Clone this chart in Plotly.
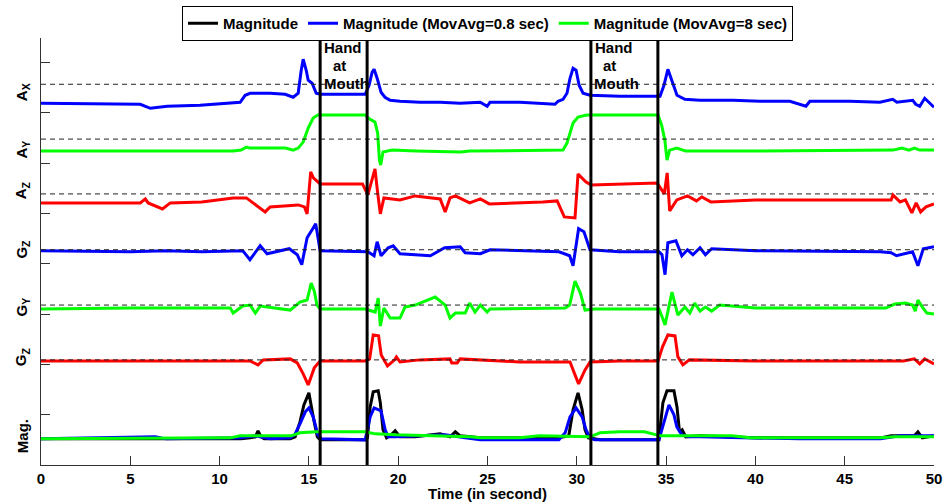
import plotly.graph_objects as go

# ---------------- data (time in s, signal in arbitrary units) ----------------
x_ticks = [0, 5, 10, 15, 20, 25, 30, 35, 40, 45, 50]
y_ticks = [1, 2, 3, 4, 5, 6, 7, 8]
channel_labels = ["A<sub>X</sub>", "A<sub>Y</sub>", "A<sub>Z</sub>", "G<sub>Z</sub>",
                  "G<sub>Y</sub>", "G<sub>Z</sub>", "Mag."]
legend_names = ["Magnitude", "Magnitude (MovAvg=0.8 sec)", "Magnitude (MovAvg=8 sec)"]
hand_start = [15.63, 30.79]
hand_end = [18.26, 34.54]
hand_lines = ["Hand", "at", "Mouth"]

t_ax = [0, 5.56, 6.12, 7.07, 8.91, 10.76, 11.15, 11.43, 11.71, 12.83,
        13.67, 14.12, 14.4, 14.57, 14.68, 14.85, 14.96, 15.18, 15.41, 15.63,
        17.03, 18.15, 18.37, 18.54, 18.65, 18.82, 19.04, 19.26, 19.55, 20.1,
        21.22, 22.35, 23.47, 24.59, 24.98, 25.14, 26.82, 28.22, 28.78, 28.95,
        29.23, 29.45, 29.62, 29.79, 29.96, 30.13, 30.35, 30.74, 32.42, 34.66,
        34.88, 35.1, 35.33, 35.61, 36.05, 36.89, 38.74, 40.25, 41.93, 42.83,
        43.05, 45.29, 46.97, 47.69, 47.92, 48.81, 48.98, 49.2, 49.48, 50]
v_ax = [-19, -20, -24, -22, -21, -19, -18, -11, -9, -9,
        -10, -13, -9, 14, 25, 14, 4, 1, -9, -10,
        -10, -10, -1, 12, 15, 6, -8, -13, -16, -17,
        -18, -18, -19, -18, -22, -18, -18, -19, -20, -17,
        -15, -9, 6, 16, 14, -1, -9, -11, -12, -12,
        -1, 15, 4, -11, -15, -16, -16, -17, -17, -22,
        -17, -17, -18, -15, -18, -16, -20, -22, -14, -23]

t_ay = [0, 5, 10.76, 11.2, 11.5, 11.7, 13.7, 14.12, 14.4, 14.68,
        14.96, 15.24, 15.5, 18.15, 18.4, 18.7, 18.85, 18.95, 19.02, 19.15,
        19.65, 21.0, 23.5, 24.0, 29.23, 29.45, 29.62, 29.79, 30.07, 30.55,
        34.55, 34.75, 34.93, 35.05, 35.2, 35.6, 36.1, 40.0, 47.7, 48.2,
        48.6, 48.9, 49.2, 50.0]
v_ay = [-12, -12, -12, -11, -8, -9, -9, -11, -9, -3,
        11, 21, 24, 24, 20, 17, 6, -21, -26, -13,
        -11, -12, -13, -12, -11, -4, 6, 16, 22, 24,
        24, 14, -1, -21, -11, -9, -12, -12, -11, -9,
        -11, -9, -11, -11]

t_az = [0, 5.56, 5.84, 6.0, 6.8, 7.24, 9.0, 10.76, 11.5, 12.55,
        12.83, 14.12, 14.4, 14.75, 14.9, 15.1, 15.25, 15.63, 18.0, 18.3,
        18.7, 18.85, 19.0, 19.2, 20.1, 20.95, 22.35, 22.63, 22.9, 23.2,
        24.0, 24.6, 25.1, 28.1, 28.9, 29.3, 29.9, 30.07, 30.5, 30.8,
        32.4, 34.5, 34.9, 35.06, 35.2, 35.6, 36.2, 36.7, 37.0, 37.5,
        40.0, 47.6, 47.7, 48.1, 48.4, 48.76, 49.0, 49.25, 49.55, 50.0]
v_az = [-9, -9, -5, -9, -15, -9, -8, -4, -4, -18,
        -13, -11, -11, -13, -20, 22, 16, 10, 10, -1,
        25, 1, -20, -4, -6, -2, -5, -18, -4, -2,
        -9, -5, -10, -8, -7, -23, -24, 20, 12, 9,
        10, 11, 0, 21, -17, -6, -2, -7, -3, -8,
        -6, -6, -1, -8, -6, -19, -9, -18, -13, -10]

t_gz = [0, 5, 7, 9, 11.3, 11.7, 12.27, 12.66, 13.9, 14.35,
        14.6, 14.9, 15.18, 15.38, 15.63, 18.3, 18.65, 18.82, 19.04, 19.44,
        19.72, 20.1, 21.8, 22.6, 23.47, 23.75, 24.6, 25.14, 29.0, 29.6,
        29.79, 30.1, 30.4, 30.74, 32.4, 34.6, 34.77, 34.94, 35.1, 35.55,
        35.88, 36.2, 36.5, 36.9, 37.2, 37.55, 40, 47.0, 47.6, 47.9,
        48.8, 49.1, 49.4, 50]
v_gz = [-1, -2, -1, -2, -1, -10, 4, -4, 1, -5,
        -15, 12, 20, 26, -1, -2, -6, 8, -6, 2,
        4, -4, -6, 2, 3, -3, -4, 0, -2, -6,
        -16, 21, 18, 0, -2, -2, -5, -25, 7, 9,
        -6, 0, -5, 2, -5, 1, -1, -2, -3, -6,
        -2, -16, 1, 3]

t_gy = [0, 5, 10.6, 10.76, 11.3, 11.71, 12.0, 12.27, 13.95, 14.5,
        14.9, 15.13, 15.3, 15.45, 15.63, 18.15, 18.71, 18.88, 19.0, 19.2,
        19.55, 20.1, 20.38, 20.95, 21.5, 22.07, 22.63, 22.9, 23.2, 23.75,
        24.0, 24.3, 24.6, 24.98, 25.14, 29.35, 29.6, 29.9, 30.2, 30.46,
        31, 34.6, 34.8, 34.94, 35.33, 35.66, 36.05, 36.33, 36.6, 36.9,
        37.2, 37.55, 38.0, 40, 47.3, 47.8, 48.4, 48.8, 48.95, 49.1,
        49.35, 49.6, 50]
v_gy = [-4, -3, -3, -8, -1, 0, -8, -1, -5, 3,
        5, 22, 14, 0, -4, -4, -7, 7, -21, -3,
        -13, -13, -2, 0, 4, 8, 0, -13, -8, -8,
        2, -7, 0, -7, -4, -3, 0, 24, 12, -5,
        -4, -4, -13, -20, 13, -10, -2, -8, 2, -6,
        -2, -6, 0, -3, -3, 1, 2, 0, -6, 5,
        -2, -8, -9]

t_gz2 = [0, 5, 11.7, 12.15, 12.44, 13.95, 14.35, 14.68, 14.96, 15.3,
         15.63, 18.15, 18.4, 18.6, 18.9, 19.05, 19.4, 19.8, 19.9, 20.1,
         21.2, 22.9, 23.0, 23.3, 23.47, 26.8, 29.62, 29.9, 30.1, 30.46,
         30.74, 32.4, 34.55, 34.8, 35.1, 35.5, 35.66, 35.94, 36.3, 40,
         48.3, 48.9, 49.2, 49.48, 50]
v_gz2 = [-1, -1, -1, -5, 0, 1, -3, -14, -25, -8,
         -1, -1, 1, 25, 24, 5, -6, 0, 3, -2,
         0, 1, -3, -3, 1, -2, -2, -15, -24, -10,
         -2, -1, -1, 13, 25, 24, 3, -5, 0, -1,
         -1, 1, -4, 1, -4]

t_mag = [0, 11.2, 11.71, 12.0, 12.15, 12.33, 12.5, 13.95, 14.23, 14.5,
         14.72, 15.0, 15.24, 15.47, 15.63, 18.15, 18.28, 18.43, 18.6, 18.88,
         19.0, 19.15, 19.35, 19.55, 19.83, 20.1, 20.95, 22.35, 22.9, 23.2,
         23.47, 24.6, 28.95, 29.55, 29.79, 30.07, 30.3, 30.46, 30.65, 31.3,
         34.6, 34.82, 35.05, 35.44, 35.61, 35.75, 35.9, 36.1, 36.9, 40,
         47.0, 47.6, 48.1, 48.9, 49.1, 49.35, 50]
v_mag = [1, 1, 2, 3, 9, 3, 1, 1, 3, 18,
         35, 47, 23, 3, 0, 0, 2, 33, 48, 49,
         37, 10, 2, 4, 9, 3, 3, 6, 3, 8,
         4, 2, 2, 4, 30, 47, 30, 10, 2, 0,
         0, 37, 49, 49, 33, 8, 10, 3, 4, 2,
         2, 4, 4, 4, 8, 2, 4]

t_mag08 = [0, 6.4, 7.0, 11.2, 12.0, 12.27, 12.83, 13.95, 14.2, 14.5,
           14.8, 15.0, 15.24, 15.5, 15.7, 18.15, 18.25, 18.43, 18.65, 19.04,
           19.27, 19.44, 19.83, 21.2, 22.63, 23.75, 24.6, 29.0, 29.35, 29.62,
           29.96, 30.3, 30.52, 30.75, 31.0, 34.6, 34.94, 35.16, 35.44, 35.6,
           35.88, 36.3, 36.9, 42.5, 47.0, 47.6, 48.1, 50]
v_mag08 = [1, 3, 1, 2, 4, 3, 1, 2, 5, 16,
           28, 32, 23, 5, 1, 0, 8, 23, 32, 29,
           10, 3, 3, 4, 5, 2, 0, 0, 7, 23,
           32, 23, 10, 2, 0, 0, 23, 35, 25, 13,
           5, 3, 3, 1, 1, 3, 4, 4]

t_mag8 = [0, 10.6, 11.15, 14.0, 14.5, 15.41, 18.15, 18.71, 19.83, 22.9,
          24.0, 24.6, 26.8, 27.9, 30.74, 31.3, 32.4, 33.8, 34.4, 34.66,
          38.7, 39.2, 39.7, 47.0, 47.8, 50]
v_mag8 = [1, 2, 4, 4, 7, 8, 8, 6, 5, 4,
          3, 2, 2, 4, 3, 7, 8, 8, 5, 4,
          4, 3, 2, 2, 3, 3]

# ---------------- presentation ----------------
offsets = [7.57, 6.48, 5.39, 4.28, 3.18, 2.09]
mag_offset = 0.5
gain = 1 / 50.3
label_y = [7.42, 6.28, 5.47, 4.29, 3.14, 2.15, 0.58]
FONT = "Liberation Sans"
hand_xshift = [23, 19, 26]
hand_yshift = [-9, -27, -45]

channels = [(t_ax, v_ax, "#0000ff"), (t_ay, v_ay, "#00ff00"), (t_az, v_az, "#ff0000"),
            (t_gz, v_gz, "#0000ff"), (t_gy, v_gy, "#00ff00"), (t_gz2, v_gz2, "#ff0000")]
mags = [(t_mag, v_mag, "#000000"), (t_mag08, v_mag08, "#0000ff"), (t_mag8, v_mag8, "#00ff00")]

fig = go.Figure()
for (t, v, c), off in zip(channels, offsets):
    assert len(t) == len(v)
    fig.add_trace(go.Scatter(x=t, y=[off + gain * a for a in v], mode="lines",
                             line=dict(color=c, width=3), showlegend=False,
                             hoverinfo="skip"))
for (t, v, c), name in zip(mags, legend_names):
    assert len(t) == len(v)
    fig.add_trace(go.Scatter(x=t, y=[mag_offset + gain * a for a in v], mode="lines",
                             line=dict(color=c, width=3), name=name))

shapes = []
for off in offsets:
    shapes.append(dict(type="line", xref="x", yref="y", x0=0, x1=50, y0=off, y1=off,
                       line=dict(color="#222222", width=1, dash="5px,4px"), layer="above"))
for xs in hand_start + hand_end:
    shapes.append(dict(type="line", xref="x", yref="paper", x0=xs, x1=xs, y0=0, y1=1,
                       line=dict(color="black", width=3), layer="above"))

annotations = []
for xs in hand_start:
    for txt, dx, dy in zip(hand_lines, hand_xshift, hand_yshift):
        annotations.append(dict(x=xs, xref="x", xshift=dx, xanchor="center", y=1,
                                yref="paper", yshift=dy, yanchor="middle", text=txt,
                                showarrow=False,
                                font=dict(family=FONT, size=15, color="black",
                                          weight="bold")))
for lab, ly in zip(channel_labels, label_y):
    annotations.append(dict(x=-0.0209, xref="paper", xanchor="center", y=ly, yref="y",
                            yanchor="middle", text=lab, textangle=-90, showarrow=False,
                            font=dict(family=FONT, size=15, color="black", weight="bold")))

fig.update_layout(
    width=944, height=502,
    margin=dict(l=41, r=10, t=38, b=37, autoexpand=False),
    paper_bgcolor="white", plot_bgcolor="white",
    font=dict(family=FONT, size=15, color="black"),
    shapes=shapes, annotations=annotations,
    xaxis=dict(range=[0, 50], tickvals=x_ticks, ticks="inside", ticklen=9,
               tickcolor="#333333", showline=True, linecolor="#333333", linewidth=1,
               showgrid=False, zeroline=False, automargin=False,
               tickfont=dict(family=FONT, size=15, color="black", weight="bold"),
               title=dict(text="Time (in second)", standoff=4,
                          font=dict(family=FONT, size=15, color="black", weight="bold"))),
    yaxis=dict(range=[0, 8.49], tickvals=y_ticks, showticklabels=False, ticks="inside",
               ticklen=9, tickcolor="#333333", showline=True, linecolor="#333333",
               linewidth=1, showgrid=False, zeroline=False, automargin=False),
    legend=dict(orientation="h", x=0.5, xanchor="center", xref="paper",
                y=1 - 6 / 502, yref="container", yanchor="top",
                bordercolor="black", borderwidth=1, bgcolor="white",
                font=dict(family=FONT, size=15, color="black", weight="bold"),
                itemwidth=30),
)

fig.write_html("out.html")
